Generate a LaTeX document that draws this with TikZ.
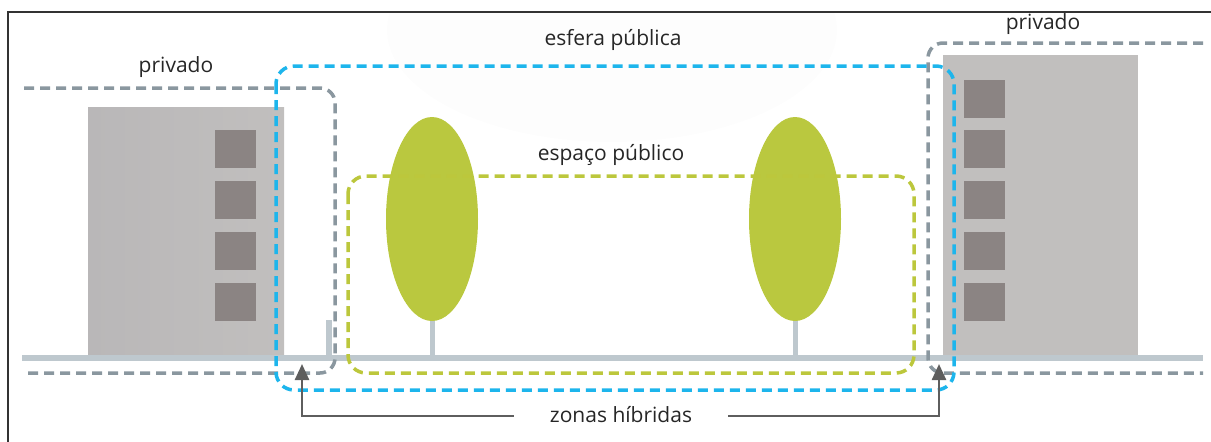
\documentclass[tikz,border=0pt]{standalone}
\usepackage{fontspec}
\setmainfont{Open Sans}
\usetikzlibrary{arrows.meta}
\definecolor{bld}{HTML}{C1BFBE}
\definecolor{bldd}{HTML}{B9B7B8}
\definecolor{win}{HTML}{8B8483}
\definecolor{grnd}{HTML}{BEC8CE}
\definecolor{tree}{HTML}{BAC83F}
\definecolor{priv}{HTML}{8A979F}
\definecolor{esf}{HTML}{1DB5EC}
\definecolor{esp}{HTML}{BCC73C}
\definecolor{txt}{HTML}{262626}
\definecolor{arr}{HTML}{5E5E5E}
\definecolor{glow}{HTML}{FDFDFD}
\begin{document}
\begin{tikzpicture}[x=1pt,y=-1pt,
  dashline/.style={line width=3.5pt, dash pattern=on 10pt off 6pt},
  lbl/.style={text=txt, font=\fontsize{21}{23}\selectfont, inner sep=0pt},
  arrowline/.style={arr, line width=2.5pt, -{Triangle[length=16pt,width=14pt]}}]
\useasboundingbox (0,0) rectangle (1211,442);
% faint glow
\begin{scope}
  \clip (8,12) rectangle (1211,442);
  \fill[glow] (612,30) ellipse [x radius=225, y radius=112];
\end{scope}
% frame
\draw[black!80, line width=1.5pt] (8,442) -- (8,12) -- (1211,12);
% buildings
\shade[left color=bldd, right color=bld] (88,107) rectangle (284,358);
\foreach \y in {130,181,232,283} \fill[win] (215,\y) rectangle ++(41,38);
\fill[bld] (943,55) rectangle (1138,358);
\foreach \y in {80,130,181,232,283} \fill[win] (964,\y) rectangle ++(41,38);
% ground, post, trunks
\draw[grnd, line width=6pt] (22,358) -- (1203,358);
\draw[grnd, line width=6pt] (329,320) -- (329,358);
\draw[grnd, line width=5pt] (432,300) -- (432,358);
\draw[grnd, line width=5pt] (795,300) -- (795,358);
% trees
\fill[tree] (432,219) ellipse [x radius=46, y radius=102];
\fill[tree] (795,219) ellipse [x radius=46, y radius=102];
% dashed zones
\draw[dashline, priv, rounded corners=15pt] (24,88) -- (335,88) -- (335,373) -- (24,373);
\draw[dashline, priv, rounded corners=15pt] (1203,43) -- (928,43) -- (928,373) -- (1203,373);
\draw[dashline, esf, rounded corners=18pt] (276,66) rectangle (954,390);
\draw[dashline, esp, rounded corners=18pt] (348,176) rectangle (914,373);
% labels
\node[lbl] (esfera) at (613,40) {esfera pública};
\node[lbl] (espaco) at (611,155) {espaço público};
\node[lbl] (privL) at (176,67) {privado};
\node[lbl] (privR) at (1043,24) {privado};
\node[lbl, inner xsep=36pt] (zonas) at (621,415) {zonas híbridas};
\coordinate (tipL) at (302,364);
\coordinate (tipR) at (939,364);
\draw[arrowline] (zonas.west |- 0,416) -| (tipL);
\draw[arrowline] (zonas.east |- 0,416) -| (tipR);
\end{tikzpicture}
\end{document}
